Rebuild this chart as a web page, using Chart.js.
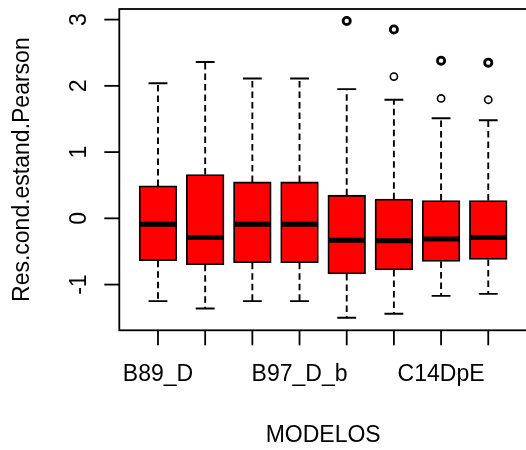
<!DOCTYPE html>
<html>
<head>
<meta charset="utf-8">
<script src="https://cdn.jsdelivr.net/npm/chart.js@4.4.1/dist/chart.umd.min.js"></script>
<style>
  html, body { margin: 0; padding: 0; background: #fff; }
  #wrap { width: 526px; height: 450px; }
</style>
</head>
<body>
<div id="wrap"><canvas id="boxChart" width="526" height="450"></canvas></div>
<script>
// models (only some names are printed under the axis, as in R)
const modelos = ['B89_D', '', '', 'B97_D_b', '', '', 'C14DpE', ''];
const lowerWhisker = [-1.25, -1.36, -1.25, -1.25, -1.50, -1.44, -1.17, -1.14];
const q1Values     = [-0.64, -0.70, -0.67, -0.67, -0.84, -0.78, -0.65, -0.62];
const medians      = [-0.09, -0.29, -0.09, -0.09, -0.33, -0.34, -0.31, -0.29];
const q3Values     = [0.49, 0.66, 0.55, 0.55, 0.35, 0.29, 0.27, 0.27];
const upperWhisker = [2.04, 2.36, 2.11, 2.11, 1.95, 1.79, 1.51, 1.48];
// outliers: [model index (1-based), value, overlapping points]
const outliers = [
    [5, 2.98, 2], [6, 2.85, 2], [6, 2.14, 1],
    [7, 2.38, 2], [7, 1.81, 1], [8, 2.35, 2], [8, 1.79, 1]
];
const yTicks = [-1, 0, 1, 2, 3];

const FONT = '23px "Liberation Sans", Arial, sans-serif';
const BOX_W = 37.7;

const boxPlugin = {
    id: 'boxExtras',
    afterDatasetsDraw(chart) {
        const ctx = chart.ctx;
        const x = chart.scales.x, y = chart.scales.y;
        ctx.save();
        ctx.strokeStyle = '#000';
        for (let i = 0; i < modelos.length; i++) {
            const px = x.getPixelForValue(i + 1);
            // dashed whiskers, drawn from the box outwards
            ctx.lineWidth = 1.9;
            ctx.setLineDash([6.5, 4]);
            ctx.beginPath();
            ctx.moveTo(px, y.getPixelForValue(q3Values[i]));
            ctx.lineTo(px, y.getPixelForValue(upperWhisker[i]));
            ctx.stroke();
            ctx.beginPath();
            ctx.moveTo(px, y.getPixelForValue(q1Values[i]));
            ctx.lineTo(px, y.getPixelForValue(lowerWhisker[i]));
            ctx.stroke();
            ctx.setLineDash([]);
            // staples
            ctx.beginPath();
            ctx.moveTo(px - BOX_W / 4, y.getPixelForValue(upperWhisker[i]));
            ctx.lineTo(px + BOX_W / 4, y.getPixelForValue(upperWhisker[i]));
            ctx.moveTo(px - BOX_W / 4, y.getPixelForValue(lowerWhisker[i]));
            ctx.lineTo(px + BOX_W / 4, y.getPixelForValue(lowerWhisker[i]));
            ctx.stroke();
            // median
            ctx.lineWidth = 5;
            ctx.beginPath();
            ctx.moveTo(px - BOX_W / 2 + 1, y.getPixelForValue(medians[i]));
            ctx.lineTo(px + BOX_W / 2 - 1, y.getPixelForValue(medians[i]));
            ctx.stroke();
        }
        ctx.restore();
    },
    afterDraw(chart) {
        const ctx = chart.ctx;
        const x = chart.scales.x, y = chart.scales.y;
        const a = chart.chartArea;
        ctx.save();
        ctx.strokeStyle = '#000';
        ctx.lineWidth = 1.8;
        // frame (right side falls just outside the canvas, as in the reference)
        ctx.strokeRect(a.left, a.top, a.right - a.left + 3, a.bottom - a.top);
        // x ticks and labels
        ctx.fillStyle = '#000';
        ctx.font = FONT;
        ctx.textAlign = 'center';
        ctx.textBaseline = 'alphabetic';
        for (let i = 0; i < modelos.length; i++) {
            const px = x.getPixelForValue(i + 1);
            ctx.beginPath();
            ctx.moveTo(px, a.bottom);
            ctx.lineTo(px, a.bottom + 15);
            ctx.stroke();
            if (modelos[i]) ctx.fillText(modelos[i], px, 381);
        }
        // y ticks and rotated labels
        yTicks.forEach(t => {
            const py = y.getPixelForValue(t);
            ctx.beginPath();
            ctx.moveTo(a.left, py);
            ctx.lineTo(a.left - 15, py);
            ctx.stroke();
            ctx.save();
            ctx.translate(85.5, py);
            ctx.rotate(-Math.PI / 2);
            ctx.fillText(String(t), 0, 0);
            ctx.restore();
        });
        // axis titles
        ctx.fillText('MODELOS', (a.left + a.right + 1) / 2, 442);
        ctx.save();
        ctx.translate(28.5, (a.top + a.bottom) / 2);
        ctx.rotate(-Math.PI / 2);
        ctx.fillText('Res.cond.estand.Pearson', 0, 0);
        ctx.restore();
        ctx.restore();
    }
};

const ctx = document.getElementById('boxChart').getContext('2d');
new Chart(ctx, {
    type: 'bar',
    data: {
        datasets: [{
            type: 'bar',
            data: modelos.map((m, i) => ({ x: i + 1, y: [q1Values[i], q3Values[i]] })),
            backgroundColor: '#ff0000',
            borderColor: '#000',
            borderWidth: 1.8,
            borderSkipped: false,
            barThickness: BOX_W
        }, {
            type: 'scatter',
            data: outliers.map(o => ({ x: o[0], y: o[1] })),
            pointStyle: 'circle',
            pointRadius: 3.6,
            pointBorderWidth: outliers.map(o => o[2] > 1 ? 2.8 : 1.6),
            pointBorderColor: '#000',
            pointBackgroundColor: 'rgba(0,0,0,0)'
        }]
    },
    options: {
        responsive: false,
        animation: false,
        layout: { autoPadding: false, padding: { left: 119.3, top: 9, right: 0, bottom: 119.7 } },
        plugins: { legend: { display: false }, tooltip: { enabled: false } },
        scales: {
            x: { type: 'linear', min: 0.18, max: 8.80, offset: false, display: false },
            y: { type: 'linear', min: -1.69, max: 3.16, display: false }
        }
    },
    plugins: [boxPlugin]
});
</script>
</body>
</html>
